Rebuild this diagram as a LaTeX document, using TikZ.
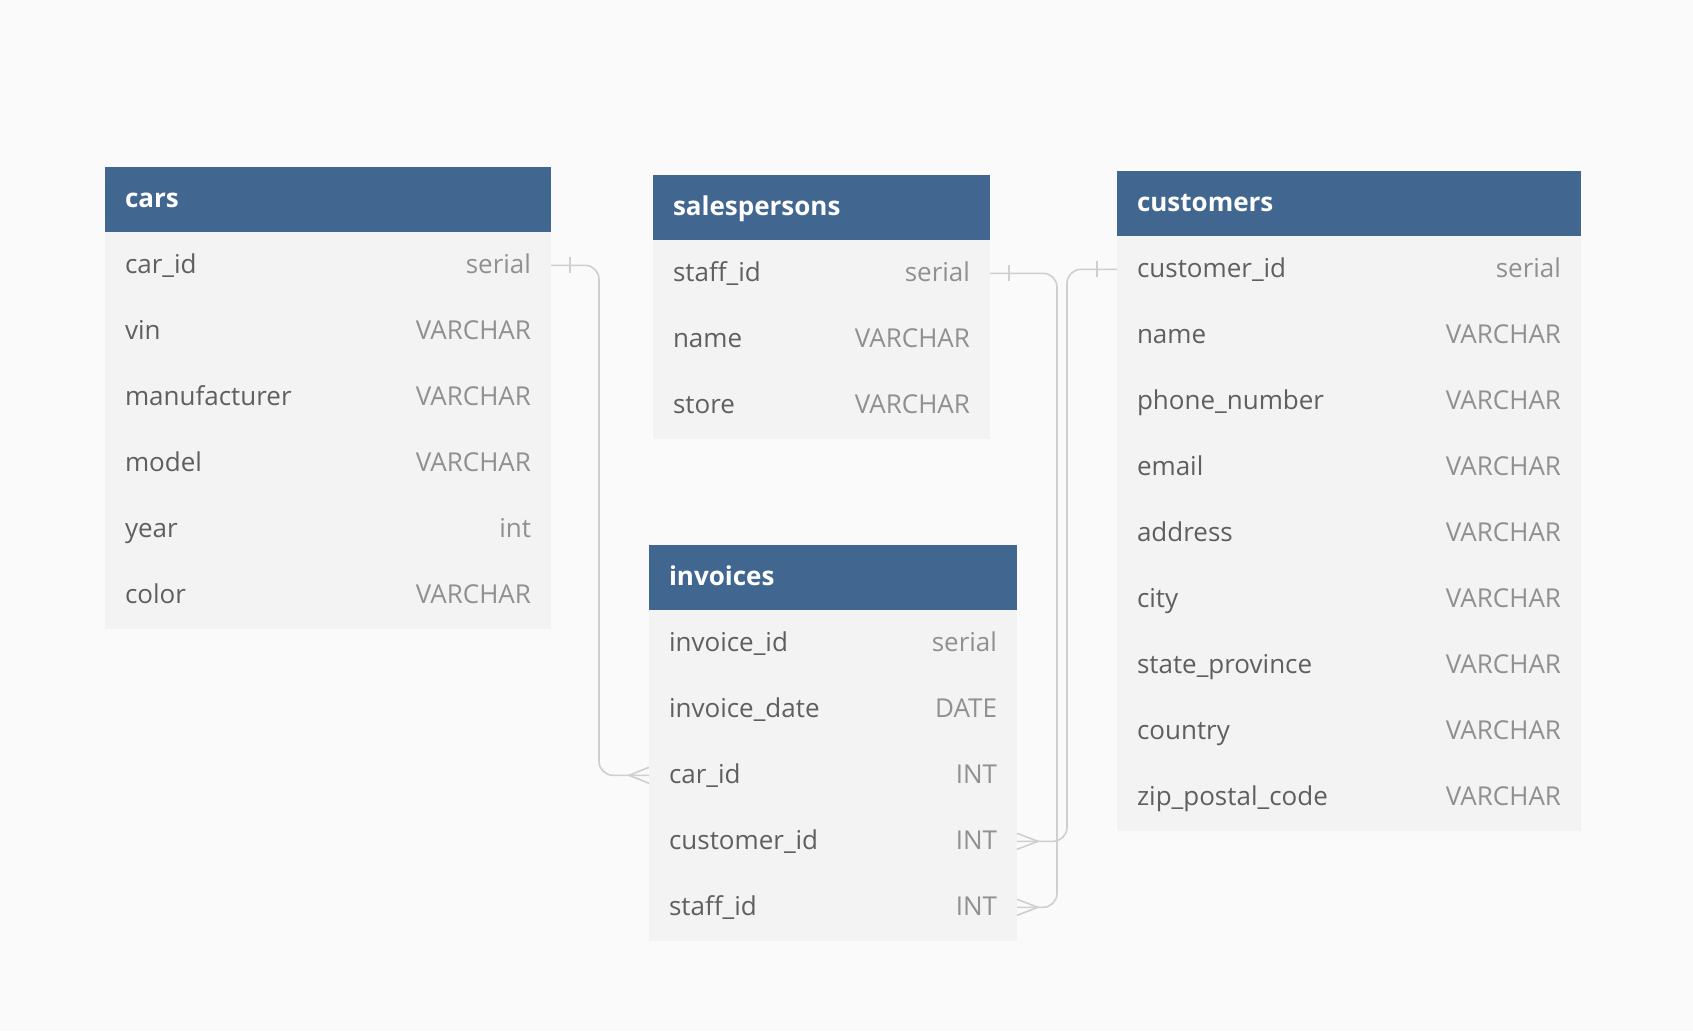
\documentclass[tikz,border=0pt]{standalone}
\usepackage{fontspec}
\setmainfont{Open Sans}
\usetikzlibrary{calc}
\definecolor{hdrblue}{HTML}{41668F}
\definecolor{bodygray}{HTML}{F3F3F3}
\definecolor{bggray}{HTML}{FAFAFA}
\definecolor{fieldcol}{HTML}{5F5F5F}
\definecolor{typecol}{HTML}{909090}
\definecolor{linecol}{HTML}{CFCFCF}
\tikzset{
  hdr/.style={rectangle, fill=hdrblue, draw=none, inner sep=0pt, outer sep=0pt, minimum height=65pt},
  rowbox/.style={rectangle, fill=bodygray, draw=none, inner sep=0pt, outer sep=0pt, minimum height=66.6pt},
  hdrtext/.style={inner sep=0pt, outer sep=0pt, text=white, font=\fontsize{26}{30}\selectfont\bfseries},
  fieldtext/.style={inner sep=0pt, outer sep=0pt, text=fieldcol, font=\fontsize{26}{30}\selectfont},
  typetext/.style={inner sep=0pt, outer sep=0pt, text=typecol, font=\fontsize{26}{30}\selectfont},
  conn/.style={draw=linecol, line width=1.6pt, rounded corners=14pt},
  relmark/.style={draw=linecol, line width=1.6pt}
}
\newcommand{\erdtable}[6]{%
  \node[hdr, minimum width=#5, anchor=north west] (#1) at (#3,#4) {};
  \node[hdrtext, anchor=base west] (#1-title) at ($(#1.west)+(20,7.7)$) {#2};
  \foreach \f/\t [count=\i] in {#6} {
    \node[rowbox, minimum width=#5, anchor=north west] (#1-\i) at ($(#1.south west)+(0,{(\i-1)*66})$) {};
    \node[fieldtext, anchor=base west] (#1-\i-n) at ($(#1-\i.west)+(20,8)$) {\f};
    \node[typetext, anchor=base east] (#1-\i-t) at ($(#1-\i.east)+(-20,8)$) {\t};
  }%
}
\begin{document}
\begin{tikzpicture}[x=1pt,y=-1pt]
\useasboundingbox (0,0) rectangle (1693,1031);
\fill[bggray] (0,0) rectangle (1693,1031);

\erdtable{cars}{cars}{105}{167}{446pt}{car\_id/serial, vin/VARCHAR, manufacturer/VARCHAR, model/VARCHAR, year/int, color/VARCHAR}
\erdtable{sp}{salespersons}{653}{175}{337pt}{staff\_id/serial, name/VARCHAR, store/VARCHAR}
\erdtable{cu}{customers}{1117}{171}{464pt}{customer\_id/serial, name/VARCHAR, phone\_number/VARCHAR, email/VARCHAR, address/VARCHAR, city/VARCHAR, state\_province/VARCHAR, country/VARCHAR, zip\_postal\_code/VARCHAR}
\erdtable{inv}{invoices}{649}{545}{368pt}{invoice\_id/serial, invoice\_date/DATE, car\_id/INT, customer\_id/INT, staff\_id/INT}

% connectors
\draw[conn] (cars-1.east) -- ++(48,0) |- (inv-3.west);
\draw[conn] (sp-1.east) -- ++(67,0) |- (inv-5.east);
\draw[conn] (cu-1.west) -- ++(-50,0) |- (inv-4.east);

% one-side ticks
\draw[relmark] ($(cars-1.east)+(19,-8)$) -- ($(cars-1.east)+(19,8)$);
\draw[relmark] ($(sp-1.east)+(19,-8)$) -- ($(sp-1.east)+(19,8)$);
\draw[relmark] ($(cu-1.west)+(-20,-8)$) -- ($(cu-1.west)+(-20,8)$);

% many-side crow's feet
\draw[relmark] ($(inv-3.west)+(0,-8)$) -- ($(inv-3.west)+(-20,0)$) -- ($(inv-3.west)+(0,8)$);
\draw[relmark] ($(inv-4.east)+(0,-8)$) -- ($(inv-4.east)+(21,0)$) -- ($(inv-4.east)+(0,8)$);
\draw[relmark] ($(inv-5.east)+(0,-8)$) -- ($(inv-5.east)+(21,0)$) -- ($(inv-5.east)+(0,8)$);
\end{tikzpicture}
\end{document}
